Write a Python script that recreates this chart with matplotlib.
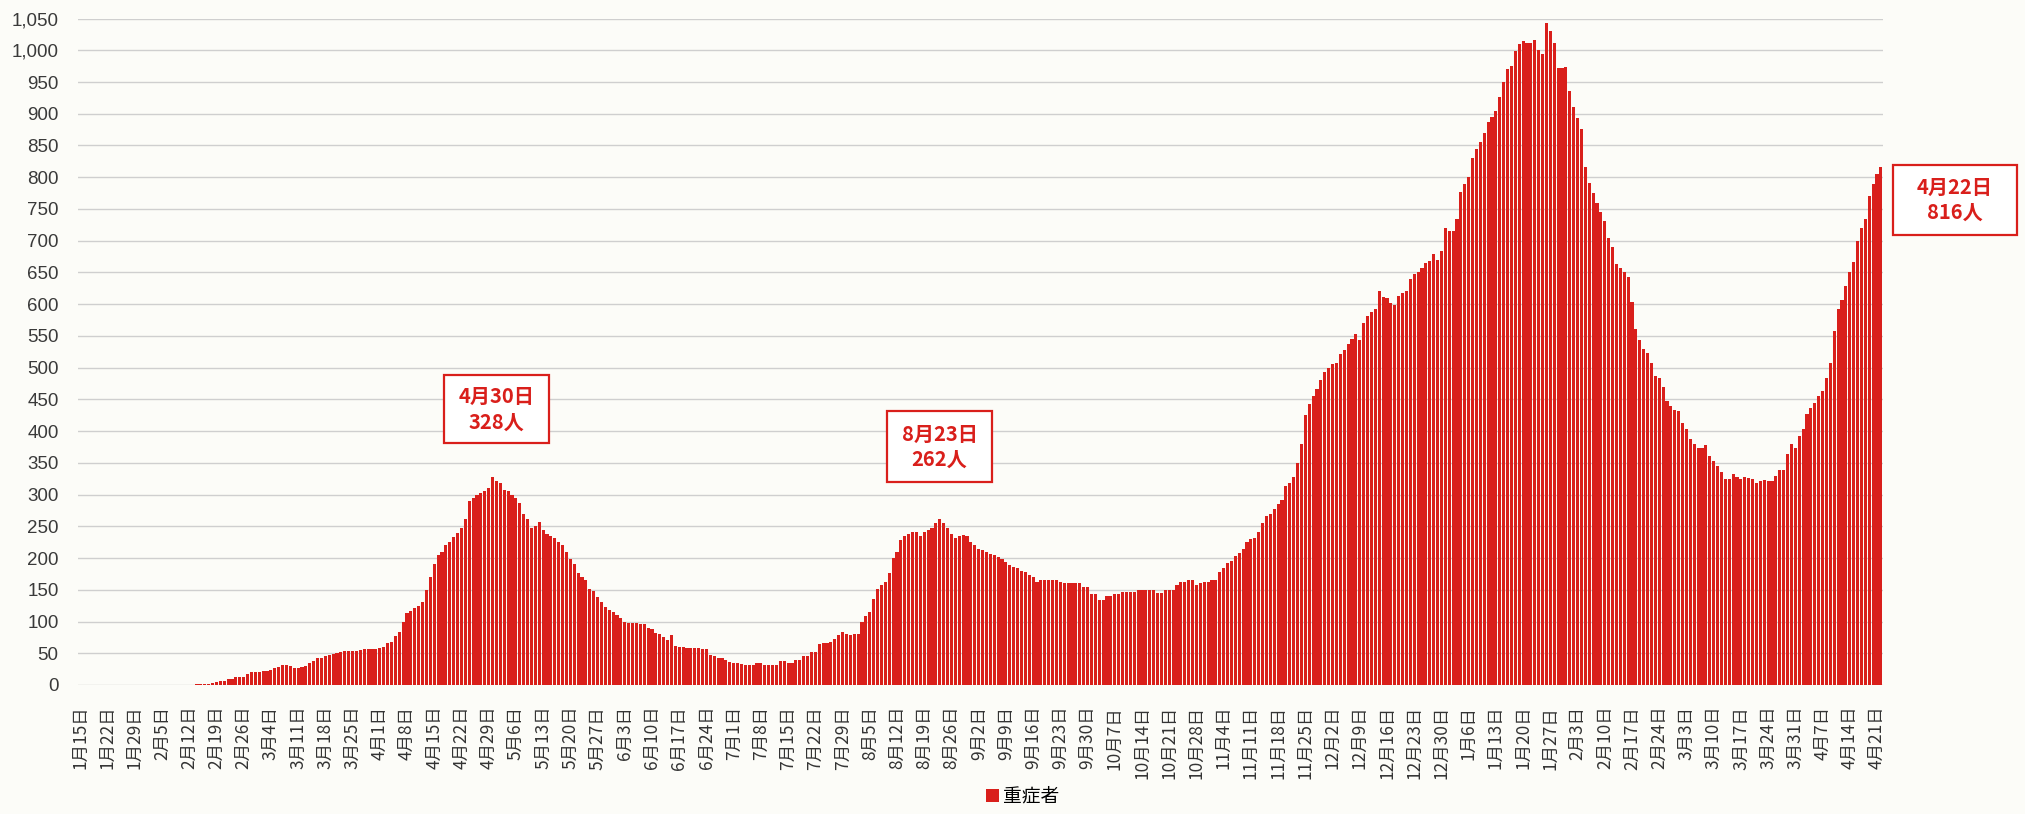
import numpy as np
import pandas as pd
import matplotlib
matplotlib.use("Agg")
import matplotlib.pyplot as plt
from matplotlib.patches import Rectangle, Patch

# daily severe cases, 2020-01-15 .. 2021-04-22
start_date = "2020-01-15"
end_date = "2021-04-22"
severe = [
    0, 0, 0, 0, 0, 0, 0, 0, 0, 0,
    0, 0, 0, 0, 0, 0, 0, 0, 0, 0,
    0, 0, 0, 0, 0, 0, 0, 0, 0, 0,
    1, 1, 2, 2, 3, 4, 6, 7, 9, 10,
    12, 12, 13, 17, 20, 21, 21, 22, 22, 23,
    26, 28, 31, 31, 30, 26, 27, 29, 30, 34,
    38, 42, 43, 45, 48, 49, 51, 52, 53, 53,
    54, 54, 55, 56, 56, 57, 57, 59, 60, 66,
    68, 77, 84, 99, 113, 117, 122, 125, 130, 150,
    170, 190, 205, 210, 220, 225, 233, 240, 248, 262,
    290, 294, 300, 303, 305, 310, 328, 322, 318, 307,
    306, 300, 295, 286, 270, 262, 247, 250, 257, 244,
    238, 235, 232, 226, 220, 210, 198, 190, 176, 170,
    165, 152, 148, 139, 130, 123, 118, 115, 110, 105,
    100, 98, 97, 97, 96, 96, 90, 88, 82, 80,
    76, 71, 79, 62, 60, 60, 59, 58, 58, 58,
    57, 56, 48, 45, 42, 42, 40, 36, 34, 34,
    33, 31, 31, 31, 34, 34, 32, 31, 31, 31,
    37, 38, 35, 35, 40, 40, 46, 46, 52, 52,
    64, 66, 66, 67, 73, 78, 83, 80, 79, 81,
    81, 100, 108, 115, 136, 151, 158, 162, 176, 200,
    210, 228, 234, 238, 241, 241, 234, 241, 244, 247,
    255, 262, 255, 247, 238, 231, 234, 236, 235, 226,
    220, 214, 212, 210, 207, 205, 202, 198, 194, 189,
    186, 184, 180, 178, 174, 170, 163, 165, 165, 165,
    165, 165, 163, 160, 160, 160, 160, 160, 155, 155,
    144, 144, 134, 134, 140, 140, 144, 144, 147, 147,
    147, 147, 150, 150, 149, 149, 149, 145, 145, 150,
    150, 150, 158, 162, 163, 166, 165, 158, 160, 162,
    163, 165, 165, 178, 184, 192, 196, 204, 208, 215,
    225, 230, 232, 241, 255, 266, 270, 278, 285, 291,
    314, 318, 328, 350, 379, 425, 442, 455, 466, 480,
    493, 500, 505, 507, 521, 528, 537, 545, 553, 544,
    570, 582, 588, 592, 621, 612, 610, 602, 599, 613,
    617, 621, 640, 648, 650, 657, 665, 668, 679, 670,
    684, 720, 716, 716, 734, 777, 790, 801, 830, 845,
    855, 869, 887, 895, 904, 926, 950, 970, 975, 999,
    1010, 1014, 1012, 1011, 1016, 1000, 994, 1043, 1030, 1012,
    972, 972, 974, 936, 910, 893, 876, 816, 791, 775,
    759, 745, 731, 705, 690, 664, 657, 650, 643, 604,
    561, 544, 530, 523, 508, 487, 484, 470, 448, 440,
    434, 431, 413, 403, 388, 380, 374, 374, 378, 360,
    353, 345, 335, 325, 325, 332, 328, 325, 328, 326,
    325, 319, 321, 323, 321, 321, 330, 339, 339, 364,
    379, 374, 392, 403, 427, 436, 445, 455, 463, 484,
    508, 558, 593, 607, 629, 650, 667, 699, 720, 734,
    770, 790, 805, 816,
]

# callouts: (date, text)
callouts = [("2020-04-30", "4月30日\n328人"),
            ("2020-08-23", "8月23日\n262人"),
            ("2021-04-22", "4月22日\n816人")]
legend_label = "重症者"

dates = pd.date_range(start_date, end_date)
assert len(dates) == len(severe)
x = np.arange(len(dates))
tick_idx = x[::7]
tick_labels = [f"{dates[i].month}月{dates[i].day}日" for i in tick_idx]

red = "#d91f1b"
bg = "#fcfcf8"
jp = "Noto Sans CJK JP"

fig = plt.figure(figsize=(20.25, 8.14), dpi=100, facecolor=bg)
ax = fig.add_axes([0.0385, 0.1585, 0.8915, 0.8187], facecolor=bg)

ax.bar(x, severe, width=0.8, color=red, linewidth=0, zorder=2)

ax.set_xlim(-0.6, len(x) - 0.4)
ax.set_ylim(0, 1050)
ax.set_yticks(np.arange(0, 1051, 50))
ax.set_yticklabels([f"{v:,}" for v in range(0, 1051, 50)],
                   family="Liberation Sans", fontsize=13.5, color="#3a3a3a")
ax.set_xticks(tick_idx)
ax.set_xticklabels(tick_labels, rotation=90, family=jp, fontsize=12.5,
                   color="#333333")
ax.tick_params(axis="both", length=0)
ax.tick_params(axis="x", pad=15)
ax.tick_params(axis="y", pad=14)
ax.grid(axis="y", color="#cfcfcf", linewidth=1.0, zorder=0)
for s in ax.spines.values():
    s.set_visible(False)

# callout boxes (data coords: box x-range, y-range)
boxes = [(93.6, 120.6, 381, 488), (207.5, 234.4, 320, 431),
         (466.0, 498.0, 709, 819)]
for (d, txt), (x0, x1, y0, y1) in zip(callouts, boxes):
    ax.add_patch(Rectangle((x0, y0), x1 - x0, y1 - y0, facecolor="white",
                           edgecolor=red, linewidth=1.6, zorder=4,
                           clip_on=False))
    ax.text((x0 + x1) / 2, (y0 + y1) / 2, txt, ha="center", va="center",
            family=jp, fontsize=14.5, fontweight="bold", color=red,
            linespacing=1.25, zorder=5, clip_on=False)

fig.legend(handles=[Patch(facecolor=red, label=legend_label)],
           loc="lower center", bbox_to_anchor=(0.505, -0.012), frameon=False,
           prop={"family": jp, "size": 13.5}, handlelength=0.7,
           handleheight=0.7, handletextpad=0.2)

fig.savefig("out.png", dpi=100, facecolor=bg)
